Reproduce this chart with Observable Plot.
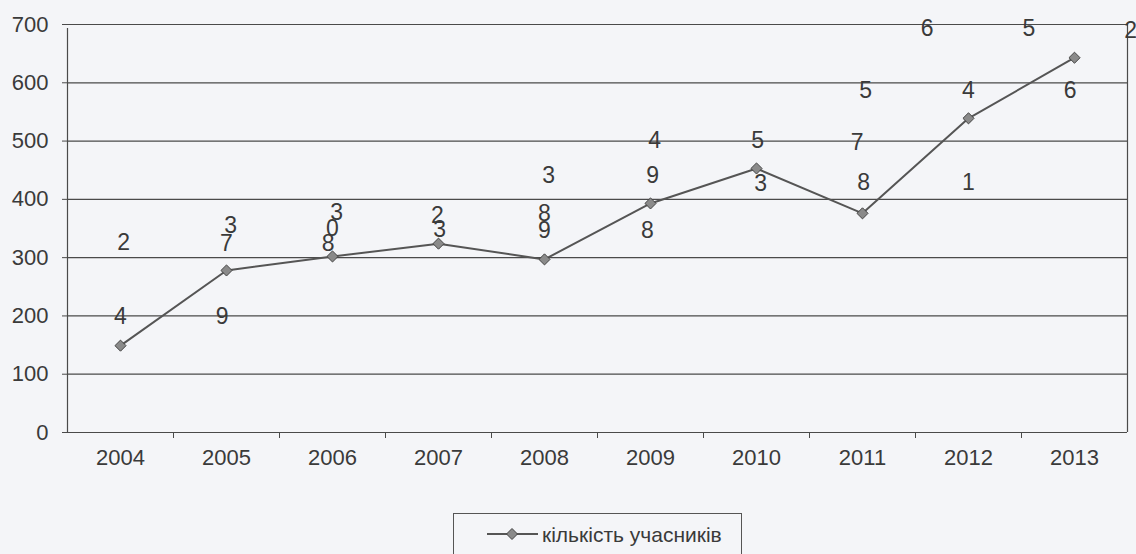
<!DOCTYPE html>
<html>
<head>
<meta charset="utf-8">
<script src="https://cdn.jsdelivr.net/npm/d3@7"></script>
<script src="https://cdn.jsdelivr.net/npm/@observablehq/plot@0.6"></script>
<style>
html, body { margin: 0; padding: 0; background: #f4f5f8; }
body { width: 1136px; height: 554px; overflow: hidden; position: relative; font-family: "Liberation Sans", Arial, sans-serif; }
#legend { position: absolute; left: 453px; top: 513px; width: 289px; height: 60px; border: 1px solid #555; box-sizing: border-box; }
</style>
</head>
<body>
<div id="chart"></div>
<div id="legend">
  <svg width="289" height="45" style="display:block">
    <line x1="33" x2="84" y1="20" y2="20" stroke="#555" stroke-width="2"></line>
    <path d="M58,14.5L63.5,20L58,25.5L52.5,20Z" fill="#8a8a8a" stroke="#444" stroke-width="1"></path>
    <text x="88" y="28" font-size="21" fill="#3a3a3a" font-family="Liberation Sans, Arial, sans-serif">кількість учасників</text>
  </svg>
</div>
<script>
// Data
const years = [2004, 2005, 2006, 2007, 2008, 2009, 2010, 2011, 2012, 2013];
const participants = [149, 278, 302, 324, 297, 393, 453, 376, 539, 643];
const yTicks = [0, 100, 200, 300, 400, 500, 600, 700];

// Scattered data-label digits as seen on the chart
const labelText = ["2","4","3","7","9","3","0","8","2","3","3","8","9","4","9","8","5","3","6","5","7","8","5","4","1","2","6"];
const labelX = [2004.03,2004.0,2005.04,2005.0,2004.96,2006.04,2006.0,2005.96,2006.99,2007.01,2008.04,2008.0,2008.0,2009.04,2009.02,2008.97,2010.01,2010.04,2011.61,2011.03,2010.95,2011.01,2012.57,2012.0,2012.0,2013.53,2012.96];
const labelY = [326,199,355,324,199,377,350,324,372,348,441,376,347,501,441,347,501,427,693,587,498,429,693,587,429,690,587];

const data = years.map((year, i) => ({year, value: participants[i]}));
const labels = labelText.map((t, i) => ({t, x: labelX[i], y: labelY[i]}));
const bounds = years.slice(0, -1).map(y => y + 0.5);

const ink = "#4a4a4a";
const chart = Plot.plot({
  width: 1136,
  height: 505,
  marginLeft: 67,
  marginRight: 9,
  marginTop: 24,
  marginBottom: 73,
  style: {background: "transparent", fontFamily: "Liberation Sans, Arial, sans-serif", color: "#3a3a3a", overflow: "visible"},
  x: {type: "linear", domain: [2003.5, 2013.5]},
  y: {domain: [0, 700]},
  marks: [
    Plot.ruleY(yTicks, {stroke: ink, strokeWidth: 1.2}),
    Plot.ruleX([2003.5], {y1: 0, y2: 700, insetBottom: -4, stroke: ink, strokeWidth: 1.2}),
    Plot.ruleX([2013.5], {y1: 0, y2: 700, stroke: ink, strokeWidth: 1.2}),
    Plot.axisY({ticks: yTicks, tickSize: 5, tickPadding: 14, fontSize: 22, label: null, stroke: ink, tickFormat: d => String(d)}),
    Plot.axisX({ticks: bounds, tickSize: 6, tickFormat: () => "", label: null, stroke: ink}),
    Plot.axisX({ticks: years, tickSize: 0, tickPadding: 17, fontSize: 22, label: null, tickFormat: d => String(d)}),
    Plot.line(data, {x: "year", y: "value", stroke: "#555", strokeWidth: 2}),
    Plot.dot(data, {x: "year", y: "value", symbol: "diamond2", r: 5, fill: "#8a8a8a", stroke: "#444", strokeWidth: 1}),
    Plot.text(labels, {x: "x", y: "y", text: "t", fontSize: 23, fill: "#3a3a3a"})
  ]
});
document.getElementById("chart").appendChild(chart);
</script>
</body>
</html>
